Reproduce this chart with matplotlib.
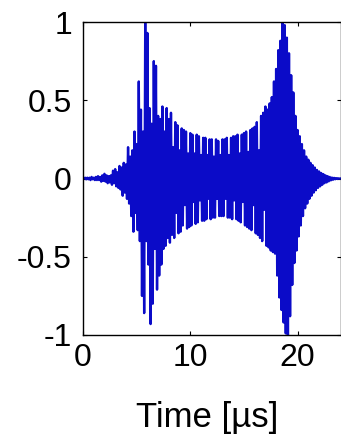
import numpy as np
import matplotlib.pyplot as plt

plt.rcParams['font.family'] = ['Liberation Sans', 'DejaVu Sans']
plt.rcParams['axes.unicode_minus'] = False
plt.rcParams['path.simplify'] = False

cycle = 0.2  # us between positive peaks

pos_peaks = [
    0.000, 0.005, 0.005, 0.005, 0.010, 0.005, 0.010, 0.015, 0.010, 0.020,
    0.030, 0.020, 0.015, 0.020, 0.050, 0.060, 0.040, 0.080, 0.070, 0.100,
    0.090, 0.200, 0.140, 0.180, 0.300, 0.220, 0.620, 0.440, 0.300, 1.000,
    0.930, 0.450, 0.350, 0.750, 0.720, 0.400, 0.380, 0.460, 0.300, 0.450,
    0.380, 0.420, 0.200, 0.360, 0.340, 0.180, 0.320, 0.310, 0.300, 0.160,
    0.290, 0.280, 0.160, 0.280, 0.270, 0.150, 0.260, 0.260, 0.150, 0.250,
    0.250, 0.140, 0.250, 0.240, 0.150, 0.250, 0.250, 0.260, 0.150, 0.260,
    0.270, 0.270, 0.280, 0.160, 0.280, 0.290, 0.300, 0.170, 0.310, 0.320,
    0.330, 0.360, 0.180, 0.400, 0.420, 0.460, 0.440, 0.480, 0.520, 0.620,
    0.700, 0.820, 0.880, 1.000, 0.980, 0.900, 0.800, 0.660, 0.550, 0.400,
    0.310, 0.270, 0.220, 0.180, 0.140, 0.120, 0.100, 0.085, 0.070, 0.055,
    0.045, 0.035, 0.028, 0.020, 0.015, 0.010, 0.006, 0.004, 0.002, 0.001,
    0.000,
]

neg_peaks = [
    -0.000, -0.005, -0.005, -0.010, -0.005, -0.010, -0.010, -0.010, -0.020, -0.015,
    -0.020, -0.030, -0.025, -0.040, -0.030, -0.050, -0.060, -0.070, -0.110, -0.090,
    -0.130, -0.160, -0.240, -0.340, -0.220, -0.330, -0.400, -0.750, -0.860, -0.400,
    -0.550, -0.930, -0.800, -0.450, -0.710, -0.620, -0.550, -0.450, -0.430, -0.380,
    -0.410, -0.360, -0.380, -0.220, -0.350, -0.340, -0.300, -0.170, -0.320, -0.310,
    -0.300, -0.150, -0.290, -0.280, -0.140, -0.270, -0.270, -0.260, -0.130, -0.260,
    -0.250, -0.250, -0.130, -0.240, -0.240, -0.240, -0.130, -0.250, -0.250, -0.260,
    -0.140, -0.260, -0.270, -0.280, -0.150, -0.300, -0.310, -0.320, -0.330, -0.170,
    -0.350, -0.360, -0.380, -0.400, -0.200, -0.430, -0.440, -0.460, -0.470, -0.480,
    -0.620, -0.760, -0.840, -0.920, -0.990, -1.000, -0.880, -0.680, -0.540, -0.460,
    -0.370, -0.300, -0.240, -0.190, -0.160, -0.130, -0.110, -0.090, -0.075, -0.060,
    -0.050, -0.040, -0.030, -0.025, -0.018, -0.012, -0.008, -0.005, -0.003, -0.001,
]

ytick_vals = [-1, -0.5, 0, 0.5, 1]
ytick_text = ['-1', '-0.5', '0', '0.5', '1']
xtick_vals = [0, 10, 20]

# interleave the peaks into one trace
t, y = [], []
for k in range(len(neg_peaks)):
    t += [k * cycle, k * cycle + cycle / 2]
    y += [pos_peaks[k], neg_peaks[k]]
t.append(len(neg_peaks) * cycle)
y.append(pos_peaks[-1])

# ---- plot ----
fig = plt.figure(figsize=(3.41, 4.38), dpi=100)
ax = fig.add_axes([83 / 341, 103 / 438, 257.5 / 341, 313 / 438])

ax.plot(t, y, color='#0b0bc8', lw=1.7)

ax.set_xlim(0, 24)
ax.set_ylim(-1, 1)
ax.set_xticks(xtick_vals)
ax.set_yticks(ytick_vals)
ax.set_yticklabels(ytick_text)

ax.tick_params(direction='in', length=3, width=0.8, top=True, right=True,
               labelsize=23, colors='black')
ax.tick_params(axis='y', pad=8)
ax.tick_params(axis='x', pad=5.5)
for s in ax.spines.values():
    s.set_linewidth(1.0)

ax.set_xlabel('Time [µs]', fontsize=25)
ax.xaxis.set_label_coords(0.483, -0.21)

fig.savefig('out.png', dpi=100)
